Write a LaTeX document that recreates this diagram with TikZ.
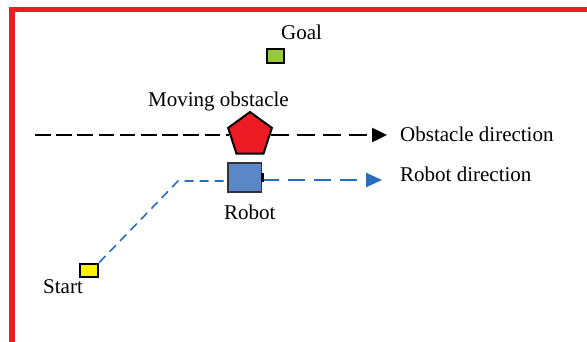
\documentclass[tikz,border=0pt]{standalone}
\usepackage{fontspec}
\setmainfont{Liberation Serif}
\usetikzlibrary{shapes.geometric,arrows.meta}
\definecolor{framered}{HTML}{ED1C24}
\definecolor{goalgreen}{HTML}{97C93D}
\definecolor{startyellow}{HTML}{FFF200}
\definecolor{robotblue}{HTML}{5B87C8}
\definecolor{pathblue}{HTML}{2A6EBB}
\begin{document}
\begin{tikzpicture}[x=1pt, y=-1pt, line cap=butt, font=\fontsize{21}{24}\selectfont]
	\tikzset{cell/.style={draw=black, line width=2pt, rectangle, inner sep=0pt},
		lbl/.style={inner sep=0pt, anchor=base west},
		obstline/.style={line width=2.5pt, black},
		robotline/.style={pathblue}}
	\useasboundingbox (0,0) rectangle (587,342);
	% open frame
	\draw[framered, line width=5.5pt] (12,350) -- (12,9.5) -- (595,9.5);
	% goal, start, robot and obstacle
	\node[cell, fill=goalgreen, minimum width=17pt, minimum height=14pt] (goal) at (275.5,56) {};
	\node[cell, fill=startyellow, minimum width=18pt, minimum height=13pt] (start) at (89.2,270) {};
	\node[cell, draw=black!80, line width=1.8pt, fill=robotblue, minimum width=33.8pt, minimum height=29pt] (robot) at (244.5,177.8) {};
	\node[draw=black, line width=2pt, fill=framered, regular polygon, regular polygon sides=5, minimum size=46pt, inner sep=0pt] (obst) at (250,135) {};
	% labels
	\node[lbl] (goallbl) at (281,40) {Goal};
	\node[lbl] (obstlbl) at (148,107) {Moving obstacle};
	\node[lbl] (robotlbl) at (224,220) {Robot};
	\node[lbl] (startlbl) at (43,293) {Start};
	\node[lbl] (obstdir) at (400,141.5) {Obstacle direction};
	\node[lbl] (robotdir) at (400,181.5) {Robot direction};
	% obstacle motion
	\coordinate (obsttail) at (35,135);
	\coordinate (obsthead) at (387,135);
	\draw[obstline, dash pattern=on 15.5pt off 5.7pt] (obsttail) -- (obst);
	\draw[obstline, dash pattern=on 18pt off 8pt, -{Triangle[length=15pt,width=14pt]}] (obst) -- (obsthead);
	% robot path
	\coordinate (bend) at (178,181);
	\coordinate (robothead) at (382,180);
	\draw[robotline, line width=1.6pt, dash pattern=on 9pt off 6pt] (start.north east) -- (bend) -- (bend -| robot.west);
	\draw[robotline, line width=2.5pt, dash pattern=on 17pt off 9pt, -{Triangle[length=16pt,width=14pt]}] (robot.east |- robothead) -- (robothead);
	\draw[line width=3pt] ([yshift=4.8pt]robot.east) -- ([yshift=-4.2pt]robot.east);
\end{tikzpicture}
\end{document}
